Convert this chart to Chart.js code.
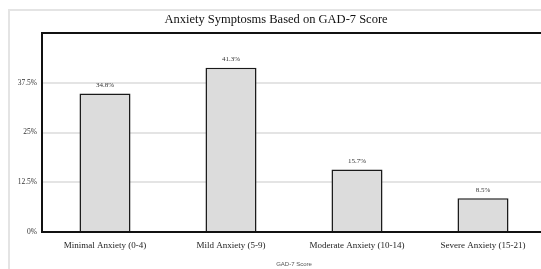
<!DOCTYPE html>
<html>
<head>
<meta charset="utf-8">
<script src="https://cdn.jsdelivr.net/npm/chart.js@4/dist/chart.umd.min.js"></script>
<style>
  html, body { margin: 0; padding: 0; background: #fff; overflow: hidden; }
  #wrap { position: relative; width: 541px; height: 269px; overflow: hidden; }
  #frame {
    position: absolute; left: 8px; top: 9px; width: 600px; height: 300px;
    border-left: 2px solid #e4e4e4; border-top: 2px solid #e4e4e4;
  }
  #c { position: absolute; left: 0; top: 0; }
</style>
</head>
<body>
<div id="wrap">
  <div id="frame"></div>
  <canvas id="c" width="560" height="269"></canvas>
</div>
<script>
const categories = ['Minimal Anxiety (0-4)', 'Mild Anxiety (5-9)', 'Moderate Anxiety (10-14)', 'Severe Anxiety (15-21)'];
const shares = [34.8, 41.3, 15.7, 8.5];
const yTicks = [0, 12.5, 25, 37.5, 50];
const yMax = 50;

const serif = "'Liberation Serif', 'DejaVu Serif', serif";

// value labels drawn above each bar
const barLabels = {
  id: 'barLabels',
  afterDatasetsDraw(chart) {
    const ctx = chart.ctx;
    const meta = chart.getDatasetMeta(0);
    ctx.save();
    ctx.font = `7px ${serif}`;
    ctx.fillStyle = '#333';
    ctx.textAlign = 'center';
    ctx.textBaseline = 'bottom';
    meta.data.forEach((bar, i) => {
      ctx.fillText(shares[i].toFixed(1) + '%', bar.x, bar.y - 5);
    });
    ctx.restore();
  }
};

new Chart(document.getElementById('c'), {
  type: 'bar',
  data: {
    labels: categories,
    datasets: [{
      data: shares,
      backgroundColor: '#dcdcdc',
      borderColor: '#1a1a1a',
      borderWidth: { top: 1.5, left: 1.5, right: 1.5, bottom: 0 },
      borderSkipped: false,
      barPercentage: 0.405,
      categoryPercentage: 1
    }]
  },
  options: {
    responsive: false,
    animation: false,
    layout: { padding: { left: 6, right: 14, top: 0, bottom: 0 } },
    plugins: {
      legend: { display: false },
      tooltip: { enabled: false },
      title: {
        display: true,
        text: 'Anxiety Symptosms Based on GAD-7 Score',
        color: '#111',
        font: { family: serif, size: 12.5, weight: 'normal' },
        padding: { top: 12, bottom: 6 }
      }
    },
    scales: {
      x: {
        grid: { display: false, drawTicks: false },
        border: { display: true, color: '#111', width: 2 },
        afterFit(scale) { scale.height = 37; },
        ticks: {
          color: '#222',
          font: { family: serif, size: 9 },
          padding: 8,
          maxRotation: 0
        },
        title: {
          display: true,
          text: 'GAD-7 Score',
          color: '#555',
          font: { family: "'Liberation Sans', sans-serif", size: 6 },
          padding: { top: 6, bottom: 1 }
        }
      },
      y: {
        min: 0,
        max: yMax,
        afterBuildTicks(scale) {
          scale.ticks = yTicks.map(v => ({ value: v }));
        },
        afterFit(scale) { scale.width = 36; },
        grid: {
          color: c => (c.tick && c.tick.value === yMax ? '#111' : '#e4e4e4'),
          lineWidth: 2,
          drawTicks: false
        },
        border: { display: true, color: '#111', width: 2 },
        ticks: {
          color: '#333',
          font: { family: serif, size: 7.5 },
          padding: 5,
          callback: v => (v === yMax ? '' : v + '%')
        }
      }
    }
  },
  plugins: [barLabels]
});
</script>
</body>
</html>
